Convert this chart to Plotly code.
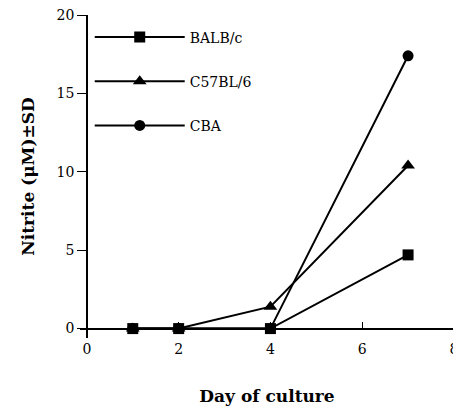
import plotly.graph_objects as go

days = [1, 2, 4, 7]
balb = [0, 0, 0, 4.7]
c57 = [0, 0, 1.4, 10.4]
cba = [0, 0, 0, 17.4]
series_names = ["BALB/c", "C57BL/6", "CBA"]
x_ticks = [0, 2, 4, 6, 8]
y_ticks = [0, 5, 10, 15, 20]

xr = [-0.15, 8.001]
yr = [-0.6, 20]

font = "DejaVu Serif"
fig = go.Figure()
for name, vals, sym in zip(series_names, [balb, c57, cba], ["square", "triangle-up", "circle"]):
    fig.add_trace(go.Scatter(
        x=days, y=vals, name=name, mode="lines+markers", legendgroup=name,
        line=dict(color="black", width=2),
        marker=dict(symbol=sym, size=11 if sym != "triangle-up" else 12, color="black"),
    ))

# page body has an 8px default margin, so the figure is sized 8px smaller
fig.update_layout(
    width=453, height=402,
    margin=dict(l=72, r=7, t=7, b=72),
    paper_bgcolor="white", plot_bgcolor="white",
    font=dict(family=font, size=14, color="black"),
    showlegend=True,
    legend=dict(x=0.026, y=0.98, xanchor="left", yanchor="top",
                bgcolor="rgba(0,0,0,0)", font=dict(size=14, family=font),
                tracegroupgap=23, itemwidth=90),
    xaxis=dict(range=xr, tickvals=x_ticks, showgrid=False, zeroline=False,
               showline=True, linecolor="black", linewidth=1.5, automargin=False,
               ticks="inside", ticklen=6, tickcolor="black", ticklabelstandoff=8,
               ticklabeloverflow="allow",
               anchor="free", position=(0 - yr[0]) / (yr[1] - yr[0]),
               title=dict(text="<b>Day of culture</b>", font=dict(size=17, family=font), standoff=33)),
    yaxis=dict(range=yr, tickvals=y_ticks, showgrid=False, zeroline=False,
               showline=True, linecolor="black", linewidth=1.5, automargin=False,
               ticks="outside", ticklen=9, tickcolor="black",
               ticklabeloverflow="allow",
               anchor="free", position=(0 - xr[0]) / (xr[1] - xr[0]),
               title=dict(text="<b>Nitrite (μM)±SD</b>", font=dict(size=17, family=font), standoff=17)),
)

fig.write_html("out.html")
